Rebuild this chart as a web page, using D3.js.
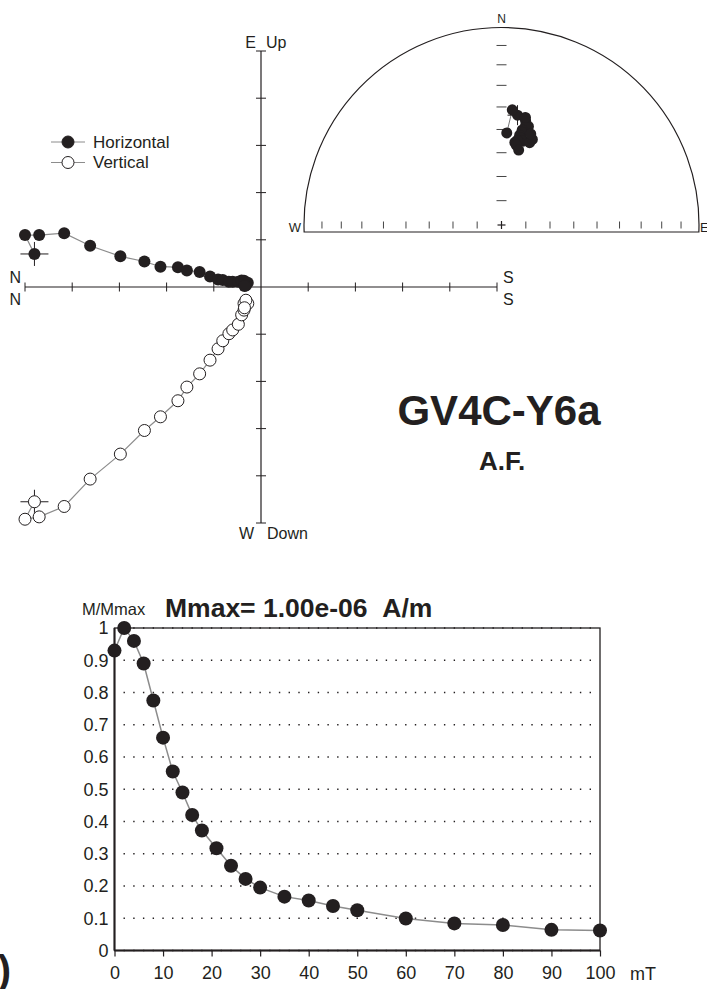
<!DOCTYPE html>
<html>
<head>
<meta charset="utf-8">
<script src="https://cdn.jsdelivr.net/npm/d3@7/dist/d3.min.js"></script>
<style>
  body { margin: 0; background: #fff; }
  svg { display: block; font-family: "Liberation Sans", Arial, sans-serif; }
</style>
</head>
<body>
<div class="canvas"></div>
<script>
// AF demagnetisation steps (mT) and normalised intensity
const steps = [0, 2, 4, 6, 8, 10, 12, 14, 16, 18, 21, 24, 27, 30, 35, 40, 45, 50, 60, 70, 80, 90, 100];
const magnitude = [0.93, 1.0, 0.96, 0.89, 0.775, 0.66, 0.555, 0.49, 0.42, 0.372, 0.317, 0.263, 0.222, 0.195,
  0.167, 0.155, 0.138, 0.125, 0.099, 0.084, 0.079, 0.064, 0.062];

// vector components, in Zijderveld tick units
const northComp = [4.80, 5.00, 4.70, 4.17, 3.62, 2.98, 2.47, 2.13, 1.76, 1.57, 1.30, 1.08, 0.91, 0.81,
  0.68, 0.60, 0.48, 0.41, 0.36, 0.36, 0.28, 0.32, 0.35];
const eastComp = [0.70, 1.10, 1.10, 1.14, 0.875, 0.65, 0.54, 0.43, 0.42, 0.35, 0.32, 0.22, 0.16, 0.15,
  0.11, 0.11, 0.11, 0.14, 0.13, 0.08, 0.09, 0.03, 0.02];
const downComp = [4.55, 4.92, 4.87, 4.65, 4.07, 3.54, 3.04, 2.75, 2.41, 2.12, 1.84, 1.55, 1.31, 1.14,
  0.99, 0.91, 0.79, 0.59, 0.49, 0.35, 0.35, 0.28, 0.44];

const yTicks = [0, 0.1, 0.2, 0.3, 0.4, 0.5, 0.6, 0.7, 0.8, 0.9, 1];
const xTicks = [0, 10, 20, 30, 40, 50, 60, 70, 80, 90, 100];
const netDips = [10, 20, 30, 40, 50, 60, 70, 80];
const zTicks = [-5, -4, -3, -2, -1, 1, 2, 3, 4, 5];

const sampleName = "GV4C-Y6a";
const treatment = "A.F.";
const mmaxText = "Mmax= 1.00e-06\u00a0\u00a0A/m";

const width = 707;
const height = 989;
const ink = "#231f20";
const gray = "#8c8c8c";

const svg = d3.select(".canvas").append("svg")
  .attr("width", width)
  .attr("height", height);

const data = steps.map((s, i) => {
  const n = northComp[i], e = eastComp[i], d = downComp[i];
  const h = Math.hypot(n, e);
  return {
    step: s, m: magnitude[i], n: n, e: e, d: d,
    dec: Math.atan2(e, n), inc: Math.atan2(d, h)
  };
});

// ---------- Zijderveld diagram ----------
const zx = d3.scaleLinear().domain([-5, 5]).range([25, 497]);
const zy = d3.scaleLinear().domain([-5, 5]).range([523, 51]);
const zij = svg.append("g");

zij.append("line")
  .attr("x1", zx(-5)).attr("x2", zx(5))
  .attr("y1", zy(0)).attr("y2", zy(0))
  .attr("stroke", ink).attr("stroke-width", 1.2);
zij.append("line")
  .attr("x1", zx(0)).attr("x2", zx(0))
  .attr("y1", zy(5)).attr("y2", zy(-5))
  .attr("stroke", ink).attr("stroke-width", 1.2);

zij.selectAll(".xt").data(zTicks).enter().append("line")
  .attr("x1", d => zx(d)).attr("x2", d => zx(d))
  .attr("y1", zy(0) - 4.5).attr("y2", zy(0) + 4.5)
  .attr("stroke", ink).attr("stroke-width", 1);
zij.selectAll(".yt").data(zTicks).enter().append("line")
  .attr("y1", d => zy(d)).attr("y2", d => zy(d))
  .attr("x1", zx(0) - 5).attr("x2", zx(0) + 5)
  .attr("stroke", ink).attr("stroke-width", 1);

const zLabel = (x, y, t, anchor) => zij.append("text")
  .attr("x", x).attr("y", y).attr("text-anchor", anchor)
  .attr("font-size", 16).attr("fill", ink).text(t);
zLabel(zx(-5) - 4, zy(0) - 4, "N", "end");
zLabel(zx(-5) - 4, zy(0) + 18, "N", "end");
zLabel(zx(5) + 6, zy(0) - 4, "S", "start");
zLabel(zx(5) + 6, zy(0) + 18, "S", "start");
zLabel(zx(0) - 5, zy(5) - 3, "E", "end");
zLabel(zx(0) + 5, zy(5) - 3, "Up", "start");
zLabel(zx(0) - 7, zy(-5) + 16, "W", "end");
zLabel(zx(0) + 6, zy(-5) + 16, "Down", "start");

const hLine = d3.line().x(d => zx(-d.n)).y(d => zy(d.e));
const vLine = d3.line().x(d => zx(-d.n)).y(d => zy(-d.d));

zij.append("path").attr("d", vLine(data))
  .attr("fill", "none").attr("stroke", gray).attr("stroke-width", 1.2);
zij.append("path").attr("d", hLine(data))
  .attr("fill", "none").attr("stroke", gray).attr("stroke-width", 1.2);

// NRM crosses
[[zx(-data[0].n), zy(data[0].e)], [zx(-data[0].n), zy(-data[0].d)]].forEach(([x, y]) => {
  zij.append("line").attr("x1", x - 14).attr("x2", x + 14).attr("y1", y).attr("y2", y)
    .attr("stroke", ink).attr("stroke-width", 1);
  zij.append("line").attr("x1", x).attr("x2", x).attr("y1", y - 12).attr("y2", y + 12)
    .attr("stroke", ink).attr("stroke-width", 1);
});

zij.selectAll(".vpt").data(data).enter().append("circle")
  .attr("cx", d => zx(-d.n)).attr("cy", d => zy(-d.d)).attr("r", 6)
  .attr("fill", "#fff").attr("stroke", ink).attr("stroke-width", 1);
zij.selectAll(".hpt").data(data).enter().append("circle")
  .attr("cx", d => zx(-d.n)).attr("cy", d => zy(d.e)).attr("r", 6)
  .attr("fill", ink);

// legend
const legend = svg.append("g");
[["Horizontal", ink], ["Vertical", "#fff"]].forEach(([name, fill], i) => {
  const y = 142 + i * 20.5;
  legend.append("line").attr("x1", 51).attr("x2", 85).attr("y1", y).attr("y2", y)
    .attr("stroke", gray).attr("stroke-width", 1);
  legend.append("circle").attr("cx", 68).attr("cy", y).attr("r", 6)
    .attr("fill", fill).attr("stroke", ink).attr("stroke-width", 1);
  legend.append("text").attr("x", 93).attr("y", y + 5.5)
    .attr("font-size", 17).attr("fill", ink).text(name);
});

// sample name
svg.append("text").attr("x", 499).attr("y", 425).attr("text-anchor", "middle")
  .attr("font-size", 42).attr("font-weight", "bold").attr("fill", ink).text(sampleName);
svg.append("text").attr("x", 502).attr("y", 470).attr("text-anchor", "middle")
  .attr("font-size", 26).attr("font-weight", "bold").attr("fill", ink).text(treatment);

// ---------- equal-area stereonet ----------
const cx = 501.5, cy = 225, R = 197.5;
const sx = d3.scaleLinear().domain([-1, 1]).range([cx - R, cx + R]);
const sy = d3.scaleLinear().domain([-1, 1]).range([cy + R, cy - R]);
const eqArea = inc => Math.SQRT2 * Math.sin((Math.PI / 2 - inc) / 2);
const net = svg.append("g");

const cut = 7 / R;
const ax = Math.sqrt(1 - cut * cut);
net.append("path")
  .attr("d", `M${sx(-ax)},${sy(-cut)} A${R},${R} 0 1 1 ${sx(ax)},${sy(-cut)} Z`)
  .attr("fill", "none").attr("stroke", ink).attr("stroke-width", 1.2);

const tickR = netDips.map(d => eqArea(d * Math.PI / 180));
net.selectAll(".ew").data(tickR.concat(tickR.map(r => -r))).enter().append("line")
  .attr("x1", d => sx(d)).attr("x2", d => sx(d))
  .attr("y1", sy(0) - 3.5).attr("y2", sy(0) + 3.5)
  .attr("stroke", "#444").attr("stroke-width", 1);
net.selectAll(".ns").data(tickR).enter().append("line")
  .attr("x1", sx(0) - 5).attr("x2", sx(0) + 5)
  .attr("y1", d => sy(d)).attr("y2", d => sy(d))
  .attr("stroke", "#444").attr("stroke-width", 1);
net.append("line").attr("x1", sx(0) - 4).attr("x2", sx(0) + 4).attr("y1", sy(0)).attr("y2", sy(0))
  .attr("stroke", ink).attr("stroke-width", 1.2);
net.append("line").attr("x1", sx(0)).attr("x2", sx(0)).attr("y1", sy(0) - 4).attr("y2", sy(0) + 4)
  .attr("stroke", ink).attr("stroke-width", 1.2);

net.append("text").attr("x", sx(0)).attr("y", 23).attr("text-anchor", "middle")
  .attr("font-size", 12).attr("fill", ink).text("N");
net.append("text").attr("x", sx(-1) - 3).attr("y", 232).attr("text-anchor", "end")
  .attr("font-size", 13).attr("fill", ink).text("W");
net.append("text").attr("x", sx(1) + 1).attr("y", 232).attr("text-anchor", "start")
  .attr("font-size", 13).attr("fill", ink).text("E");

const px = d => eqArea(d.inc) * Math.sin(d.dec);
const py = d => eqArea(d.inc) * Math.cos(d.dec);
net.append("path")
  .attr("d", d3.line().x(d => sx(px(d))).y(d => sy(py(d)))(data))
  .attr("fill", "none").attr("stroke", "#555").attr("stroke-width", 0.8);
const n0 = data[0];
net.append("line").attr("x1", sx(px(n0))).attr("x2", sx(px(n0)))
  .attr("y1", sy(py(n0)) - 10).attr("y2", sy(py(n0)) + 10)
  .attr("stroke", ink).attr("stroke-width", 1);
net.append("line").attr("x1", sx(px(n0)) - 10).attr("x2", sx(px(n0)) + 10)
  .attr("y1", sy(py(n0))).attr("y2", sy(py(n0)))
  .attr("stroke", ink).attr("stroke-width", 1);
net.selectAll(".spt").data(data).enter().append("circle")
  .attr("cx", d => sx(px(d))).attr("cy", d => sy(py(d))).attr("r", 5.5)
  .attr("fill", ink);

// ---------- demagnetisation curve ----------
const mx = d3.scaleLinear().domain([0, 100]).range([114.5, 600]);
const my = d3.scaleLinear().domain([0, 1]).range([950.5, 628]);
const curve = svg.append("g");

const period = mx(2) - mx(0);
curve.selectAll(".grid").data(yTicks).enter().append("line")
  .attr("x1", mx(2) - 0.7).attr("x2", mx(99))
  .attr("y1", d => my(d)).attr("y2", d => my(d))
  .attr("stroke", ink).attr("stroke-width", 1.4)
  .attr("stroke-dasharray", `1.4 ${period - 1.4}`);

curve.append("rect")
  .attr("x", mx(0)).attr("y", my(1))
  .attr("width", mx(100) - mx(0)).attr("height", my(0) - my(1))
  .attr("fill", "none").attr("stroke", ink).attr("stroke-width", 1.3);
curve.append("line").attr("x1", mx(0)).attr("x2", mx(0)).attr("y1", my(1)).attr("y2", my(0))
  .attr("stroke", ink).attr("stroke-width", 2);

const yAxis = curve.append("g")
  .attr("transform", `translate(${mx(0)},0)`)
  .call(d3.axisLeft(my).tickValues(yTicks).tickSize(0).tickPadding(6).tickFormat(d3.format("~g")));
yAxis.select(".domain").remove();
yAxis.attr("font-size", 18).attr("font-family", null);
yAxis.selectAll("text").attr("fill", ink);

const xAxis = curve.append("g")
  .attr("transform", `translate(0,${my(0)})`)
  .call(d3.axisBottom(mx).tickValues(xTicks).tickSize(6).tickPadding(10).tickFormat(d3.format("~g")));
xAxis.select(".domain").attr("stroke", ink).attr("stroke-width", 2).attr("d", `M${mx(0)},0H${mx(100)}`);
xAxis.attr("font-size", 18).attr("font-family", null);
xAxis.selectAll("line").attr("stroke", ink).attr("stroke-width", 1.2);
xAxis.selectAll("text").attr("fill", ink);

curve.append("text").attr("x", 630).attr("y", 980)
  .attr("font-size", 18).attr("fill", ink).text("mT");
curve.append("text").attr("x", 82).attr("y", 615)
  .attr("font-size", 16.5).attr("fill", ink).text("M/Mmax");
curve.append("text").attr("x", 165).attr("y", 617)
  .attr("font-size", 26.5).attr("font-weight", "bold").attr("fill", ink).text(mmaxText);

curve.append("path")
  .attr("d", d3.line().x(d => mx(d.step)).y(d => my(d.m))(data))
  .attr("fill", "none").attr("stroke", gray).attr("stroke-width", 1.5);
curve.selectAll(".mpt").data(data).enter().append("circle")
  .attr("cx", d => mx(d.step)).attr("cy", d => my(d.m)).attr("r", 7)
  .attr("fill", ink);

// panel letter remnant
svg.append("text").attr("x", 11).attr("y", 984).attr("text-anchor", "end")
  .attr("font-size", 40).attr("font-weight", "bold").attr("fill", ink).text(")");
</script>
</body>
</html>
